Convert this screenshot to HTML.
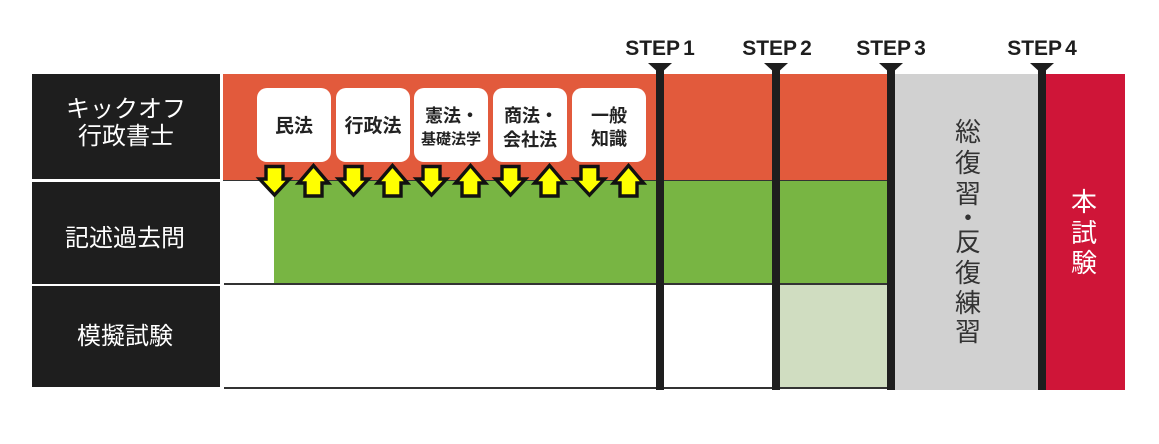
<!DOCTYPE html>
<html><head><meta charset="utf-8"><style>
html,body{margin:0;padding:0;background:#fff;}
svg{display:block;}
text{font-family:"Liberation Sans","Noto Sans CJK JP",sans-serif;}
</style></head><body>
<svg width="1159" height="444" viewBox="0 0 1159 444" xmlns="http://www.w3.org/2000/svg">
<rect x="0" y="0" width="1159" height="444" fill="#fff"/>
<!-- label column -->
<rect x="32" y="74" width="188" height="105" fill="#1e1e1e"/>
<rect x="32" y="182" width="188" height="102" fill="#1e1e1e"/>
<rect x="32" y="286" width="188" height="101" fill="#1e1e1e"/>
<!-- orange -->
<rect x="223" y="74" width="670" height="107" fill="#e25a3c"/>
<!-- green -->
<rect x="274" y="181" width="616" height="103" fill="#78b543"/>
<rect x="223" y="180" width="667" height="1" fill="#333"/>
<rect x="224" y="283" width="666" height="2" fill="#333"/>
<!-- light green -->
<rect x="780" y="285" width="108" height="103" fill="#d0ddc1"/>
<rect x="224" y="387" width="670" height="2" fill="#333"/>
<!-- grey & red -->
<rect x="893" y="74" width="146" height="316" fill="#d1d1d1"/>
<rect x="1045" y="74" width="80" height="316" fill="#cf1538"/>
<!-- step lines -->
<rect x="656" y="66" width="8" height="324" fill="#1e1e1e"/>
<rect x="772" y="66" width="8" height="324" fill="#1e1e1e"/>
<rect x="887" y="66" width="8" height="324" fill="#1e1e1e"/>
<rect x="1038" y="66" width="8" height="324" fill="#1e1e1e"/>
<polygon points="648,63 672,63 660,74" fill="#1e1e1e"/>
<polygon points="764,63 788,63 776,74" fill="#1e1e1e"/>
<polygon points="879,63 903,63 891,74" fill="#1e1e1e"/>
<polygon points="1030,63 1054,63 1042,74" fill="#1e1e1e"/>
<g font-weight="700" font-size="21" fill="#1e1e1e" text-anchor="middle">
<text x="660" y="55">STEP<tspan dx="3">1</tspan></text>
<text x="777" y="55">STEP<tspan dx="3">2</tspan></text>
<text x="891" y="55">STEP<tspan dx="3">3</tspan></text>
<text x="1042" y="55">STEP<tspan dx="3">4</tspan></text>
</g>
<!-- white boxes -->
<g fill="#fff">
<rect x="257" y="88" width="74" height="74" rx="10"/>
<rect x="336" y="88" width="74" height="74" rx="10"/>
<rect x="414" y="88" width="74" height="74" rx="10"/>
<rect x="493" y="88" width="74" height="74" rx="10"/>
<rect x="572" y="88" width="74" height="74" rx="10"/>
</g>
<g font-weight="700" fill="#222" text-anchor="middle">
<text x="294" y="132" font-size="19">民法</text>
<text x="373" y="132" font-size="19">行政法</text>
<text x="452" y="122" font-size="18">憲法・</text>
<text x="451" y="144" font-size="15">基礎法学</text>
<text x="531" y="122" font-size="18">商法・</text>
<text x="530" y="146" font-size="18">会社法</text>
<text x="609" y="122" font-size="18">一般</text>
<text x="609" y="145" font-size="18">知識</text>
</g>
<!-- arrows -->
<g fill="#ffff00" stroke="#111" stroke-width="3.4" stroke-linejoin="miter">
<path d="M266,166.5 H283 V179 H289.5 L274.5,195 L259.5,179 H266 Z"/>
<path d="M313.5,165.5 L328.5,183 H322 V196 H305 V183 H298.5 Z"/>
<path d="M345,166.5 H362 V179 H368.5 L353.5,195 L338.5,179 H345 Z"/>
<path d="M392.5,165.5 L407.5,183 H401 V196 H384 V183 H377.5 Z"/>
<path d="M423,166.5 H440 V179 H446.5 L431.5,195 L416.5,179 H423 Z"/>
<path d="M470.5,165.5 L485.5,183 H479 V196 H462 V183 H455.5 Z"/>
<path d="M502,166.5 H519 V179 H525.5 L510.5,195 L495.5,179 H502 Z"/>
<path d="M549.5,165.5 L564.5,183 H558 V196 H541 V183 H534.5 Z"/>
<path d="M581,166.5 H598 V179 H604.5 L589.5,195 L574.5,179 H581 Z"/>
<path d="M628.5,165.5 L643.5,183 H637 V196 H620 V183 H613.5 Z"/>
</g>
<!-- labels -->
<g fill="#fff" font-size="24" text-anchor="middle">
<text x="126" y="117">キックオフ</text>
<text x="126" y="144">行政書士</text>
<text x="125" y="246">記述過去問</text>
<text x="125" y="344">模擬試験</text>
</g>
<g fill="#333" font-size="26" text-anchor="middle">
<text x="968" y="141">総</text>
<text x="968" y="172">復</text>
<text x="968" y="203">習</text>
<text x="968" y="227">・</text>
<text x="968" y="251">反</text>
<text x="968" y="282">復</text>
<text x="968" y="312">練</text>
<text x="968" y="341">習</text>
</g>
<g fill="#fff" font-size="26" text-anchor="middle">
<text x="1084" y="211">本</text>
<text x="1084" y="242">試</text>
<text x="1084" y="272">験</text>
</g>
</svg>
</body></html>
